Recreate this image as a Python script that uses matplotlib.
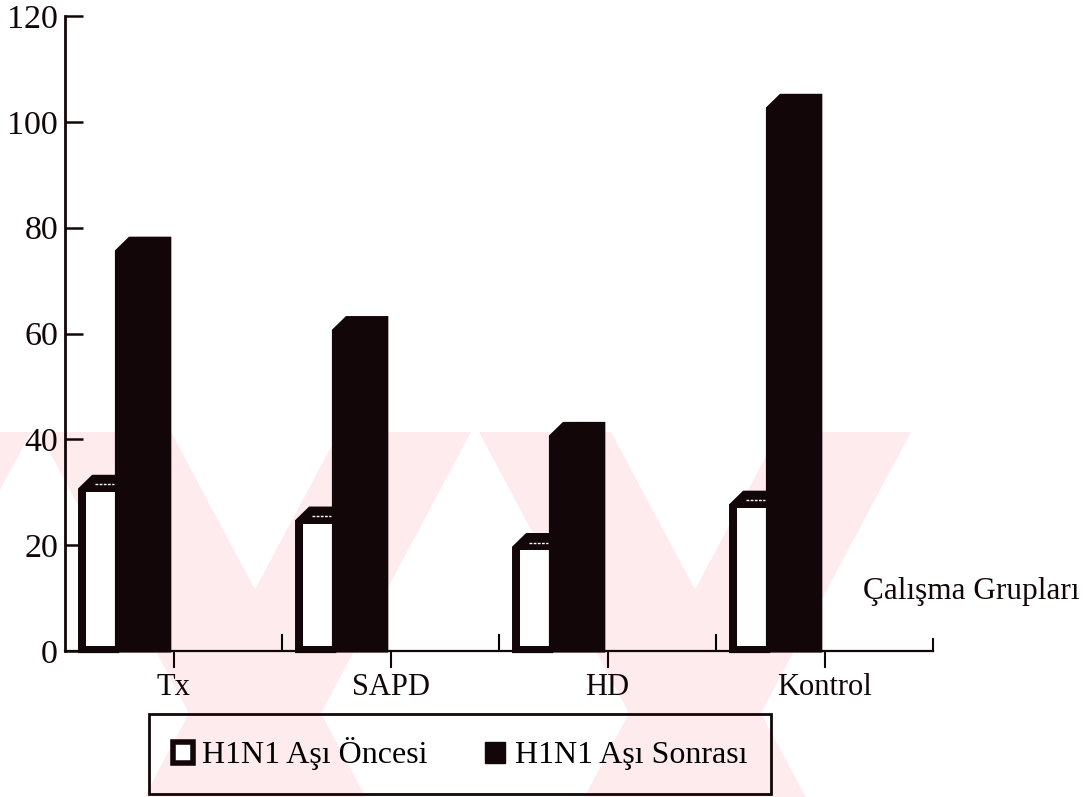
import matplotlib
matplotlib.use("Agg")
import matplotlib.pyplot as plt
from matplotlib.patches import Polygon, Rectangle
import numpy as np

plt.rcParams['font.family'] = ['Liberation Serif', 'DejaVu Serif']

# --- data ---
groups = ["Tx", "SAPD", "HD", "Kontrol"]
asi_oncesi = [30, 24, 19, 27]
asi_sonrasi = [75, 60, 40, 102]
series_names = ["H1N1 Aşı Öncesi", "H1N1 Aşı Sonrası"]
y_ticks = [0, 20, 40, 60, 80, 100, 120]
x_title = "Çalışma Grupları"

W, H = 1087, 797
INK = '#120608'
PINK = '#fdebee'

fig = plt.figure(figsize=(W / 100, H / 100), dpi=100)
fig.patch.set_facecolor('white')

# background layer in pixel coordinates (y pointing down)
bg = fig.add_axes([0, 0, 1, 1], zorder=0)
bg.set_xlim(0, W)
bg.set_ylim(H, 0)
bg.axis('off')


def stripe(x_top, sign, width, slope=1.875, ytop=432, ybot=H + 5):
    xb = x_top + sign * (ybot - ytop) / slope
    return Polygon([(x_top - width / 2, ytop), (x_top + width / 2, ytop),
                    (xb + width / 2, ybot), (xb - width / 2, ybot)],
                   closed=True, facecolor=PINK, edgecolor='none')


for xt in (105, 545):
    bg.add_patch(stripe(xt, 1, 132))
for xt in (-35, 405, 845):
    bg.add_patch(stripe(xt, -1, 132))

# --- main axes ---
x0_px, x1_px = 65, 933
y0_px, y1_px = 651, 16
ax = fig.add_axes([x0_px / W, 1 - y0_px / H, (x1_px - x0_px) / W, (y0_px - y1_px) / H], zorder=1)
ax.patch.set_alpha(0)

x = np.arange(len(groups))
ax.set_xlim(-0.5, len(groups) - 0.5)
ax.set_ylim(0, 120)

# bar geometry relative to the group tick
WL = -0.44      # left edge of the white bar outline
BL = -0.27      # left edge of the dark bar
BR = -0.01      # right edge of the dark bar
border = 0.036  # outline thickness of the white bar
cap = 3.3       # height of the top face
chx, chy = 0.065, 2.6


def capped(xl, xr, ylo, ytop):
    return [(xl, ylo), (xl, ytop - chy), (xl + chx, ytop), (xr, ytop), (xr, ylo)]


for i in x:
    v0, v1 = asi_oncesi[i], asi_sonrasi[i]
    # white bar: dark outline with a top face
    ax.add_patch(Polygon(capped(i + WL, i + BL + 0.02, -0.4, v0 + cap), closed=True,
                         facecolor=INK, edgecolor='none', clip_on=False, zorder=2))
    ax.bar(i + WL + border, v0 - 1.0, bottom=1.0, width=(BL - WL - border), align='edge',
           color='white', zorder=3)
    ax.plot([i + WL + 0.08, i + BL - 0.005], [v0 + cap * 0.45] * 2, color='white',
            lw=1.0, ls=(0, (2, 1)), zorder=3)
    # dark bar with its top face
    ax.bar(i + BL, v1, width=BR - BL, align='edge', color=INK, zorder=4)
    ax.add_patch(Polygon(capped(i + BL, i + BR, -0.3, v1 + cap), closed=True,
                         facecolor=INK, edgecolor='none', clip_on=False, zorder=4))

# axes styling
for s in ('top', 'right'):
    ax.spines[s].set_visible(False)
ax.spines['left'].set_linewidth(2.0)
ax.spines['bottom'].set_linewidth(1.6)
ax.spines['left'].set_color(INK)
ax.spines['bottom'].set_color(INK)

ax.set_yticks(y_ticks)
ax.tick_params(axis='y', direction='in', length=13, width=1.8, pad=5, labelsize=24.5, colors=INK)
ax.set_xticks(x)
ax.set_xticklabels(groups)
ax.set_xticks(x[:-1] + 0.5, minor=True)
ax.tick_params(axis='x', which='major', direction='out', length=12, width=1.5, pad=4,
               labelsize=22, colors=INK)
ax.tick_params(axis='x', which='minor', direction='in', length=12, width=1.5)
# closing tick at the right end of the axis
ax.plot([len(groups) - 0.5] * 2, [0, 2.2], color=INK, lw=1.5, clip_on=False)

fig.text(971 / W, 1 - 592 / H, x_title, ha='center', va='center', fontsize=22.5, color=INK)

# legend
h_white = Rectangle((0, 0), 1, 1, facecolor='white', edgecolor=INK, linewidth=4)
h_dark = Rectangle((0, 0), 1, 1, facecolor=INK, edgecolor=INK)
leg = fig.legend([h_white, h_dark], series_names, loc='center',
                 bbox_to_anchor=(460 / W, 1 - 754 / H), ncol=2, frameon=True,
                 fancybox=False, fontsize=23, framealpha=1,
                 handlelength=0.62, handleheight=0.62, handletextpad=0.3,
                 columnspacing=1.8, borderpad=0.75, borderaxespad=0)
frame = leg.get_frame()
frame.set_facecolor('none')
frame.set_edgecolor(INK)
frame.set_linewidth(2.0)

fig.savefig("out.png", dpi=100, facecolor='white')
